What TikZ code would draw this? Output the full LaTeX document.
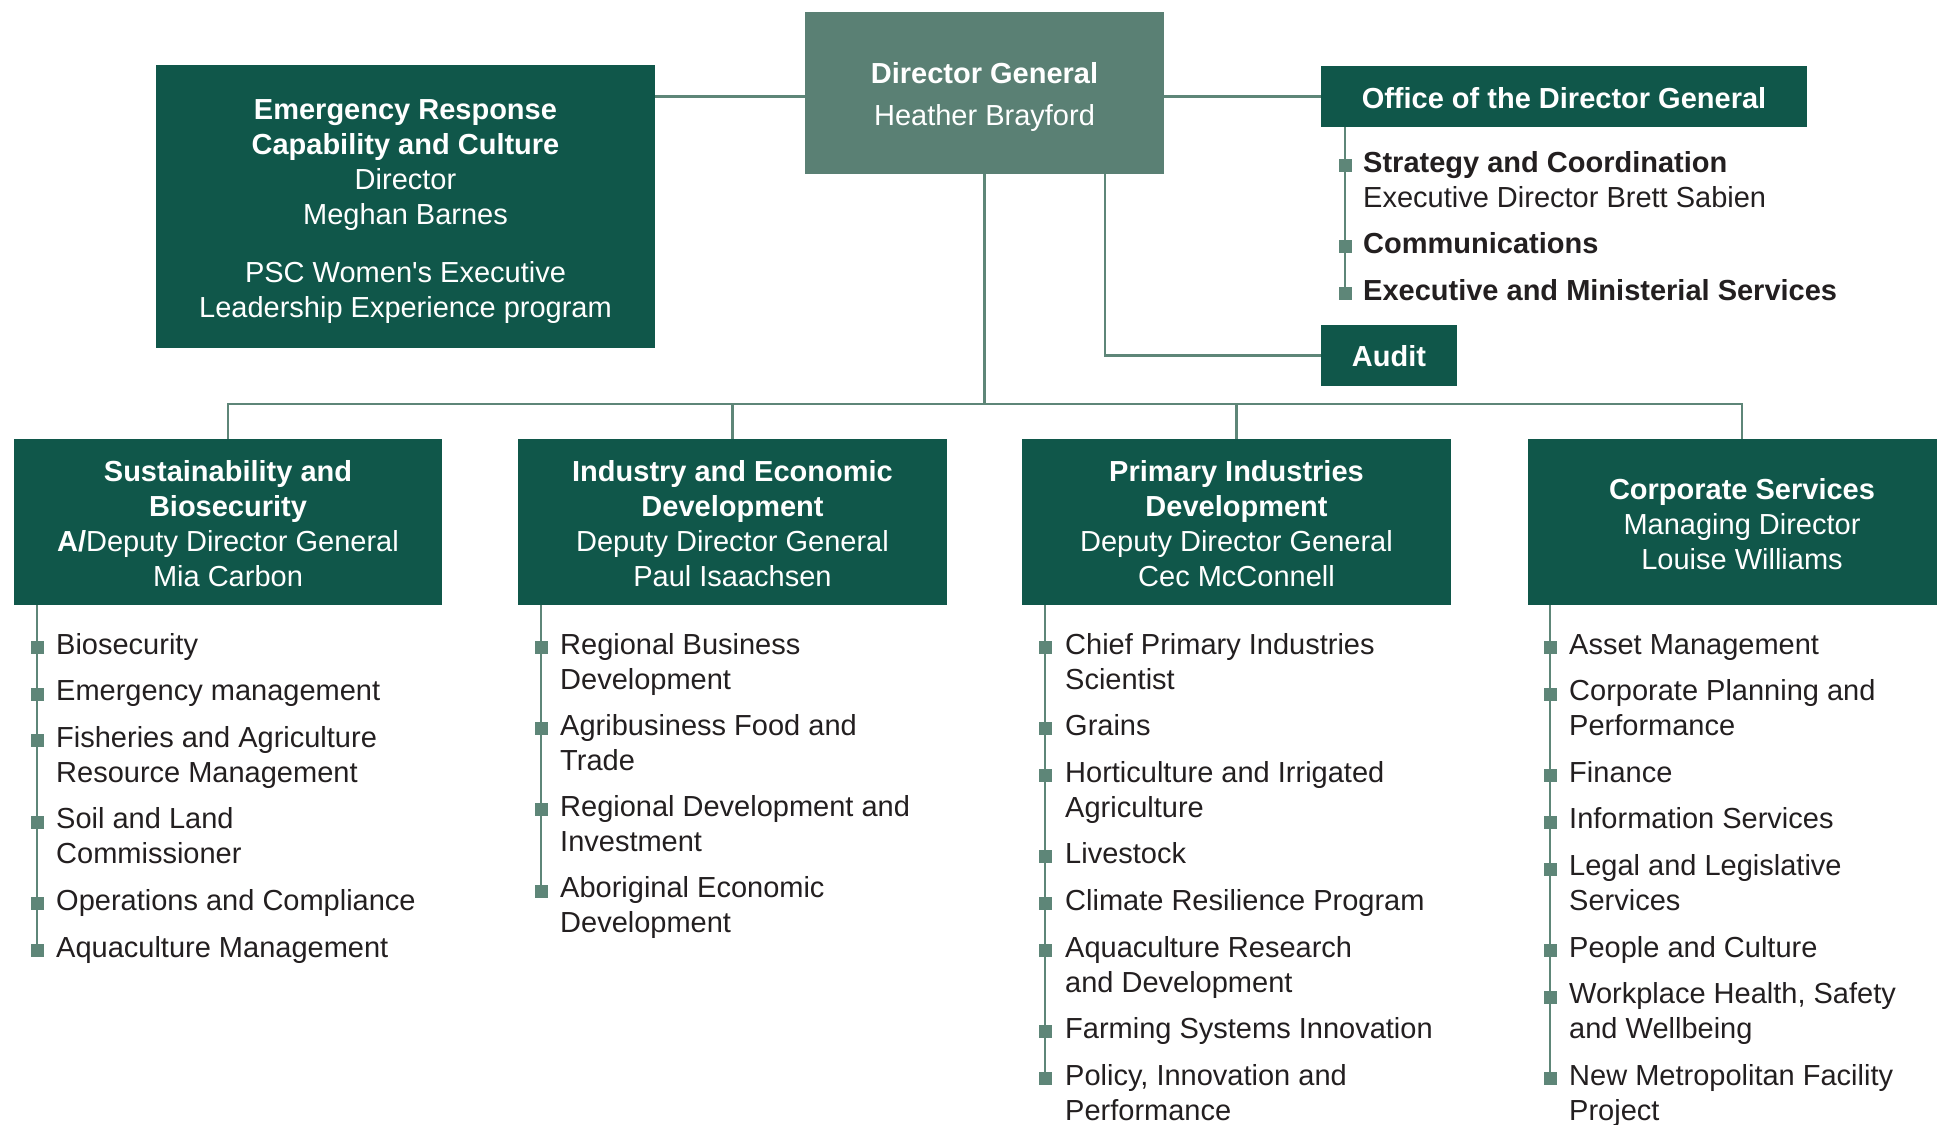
\documentclass[tikz,border=0pt]{standalone}
\usepackage{fontspec}
\setmainfont{Liberation Sans}[Ligatures=TeXOff]
\definecolor{dkgreen}{HTML}{10574A}
\definecolor{mdgreen}{HTML}{5A8074}
\definecolor{lnclr}{HTML}{5E8678}
\definecolor{txtdark}{HTML}{231F20}
\newcommand{\mlines}[1]{\begin{tabular}[t]{@{}l@{}}#1\end{tabular}}
\begin{document}
\begin{tikzpicture}[x=1pt,y=-1pt,
  every node/.style={font=\fontsize{29}{35}\selectfont},
  dbox/.style={fill=dkgreen, inner sep=0pt},
  dgbox/.style={fill=mdgreen, inner sep=0pt},
  boxtxt/.style={text=white, align=center, inner sep=0pt},
  conn/.style={draw=lnclr, line width=2.6pt},
  item/.style={anchor=base west, inner sep=0pt, text=txtdark},
  bul/.style={fill=lnclr, minimum size=13pt, inner sep=0pt, anchor=south}]
\fill[white] (0,0) rectangle (1937,1124);
\useasboundingbox (0,0) rectangle (1937,1124);
\clip (0,0) rectangle (1937,1124);

% top boxes
\node[dgbox, minimum width=359pt, minimum height=162pt,
  label={[boxtxt, yshift=-4pt]center:{\textbf{Director General}\\[7pt]Heather Brayford}}] (dg) at (984.5,93) {};
\node[dbox, minimum width=499pt, minimum height=283pt,
  label={[boxtxt, yshift=-5pt]center:{\textbf{Emergency Response}\\\textbf{Capability and Culture}\\Director\\Meghan Barnes\\[23pt]PSC Women's Executive\\Leadership Experience program}}] (ercc) at (405.5,206.5) {};
\node[dbox, minimum width=486pt, minimum height=61pt,
  label={[boxtxt, yshift=-1.5pt]center:{\textbf{Office of the Director General}}}] (office) at (1564,96.5) {};
\node[dbox, minimum width=136pt, minimum height=61pt,
  label={[boxtxt, yshift=-1pt]center:{\textbf{Audit}}}] (audit) at (1389,355.5) {};

% bottom boxes
\node[dbox, minimum width=428pt, minimum height=166pt,
  label={[boxtxt, yshift=-2pt]center:{\textbf{Sustainability and}\\\textbf{Biosecurity}\\\textbf{A/}Deputy Director General\\Mia Carbon}}] (b1) at (228,522) {};
\node[dbox, minimum width=429pt, minimum height=166pt,
  label={[boxtxt, yshift=-2pt]center:{\textbf{Industry and Economic}\\\textbf{Development}\\Deputy Director General\\Paul Isaachsen}}] (b2) at (732.5,522) {};
\node[dbox, minimum width=429pt, minimum height=166pt,
  label={[boxtxt, yshift=-2pt]center:{\textbf{Primary Industries}\\\textbf{Development}\\Deputy Director General\\Cec McConnell}}] (b3) at (1236.5,522) {};
\node[dbox, minimum width=428pt, minimum height=166pt,
  label={[boxtxt, yshift=-2pt]center:{\textbf{Corporate Services}\\Managing Director\\Louise Williams}}] (b4) at (1742,522) {};

% connectors
\draw[conn] (office.west) -- (dg.east |- office.west);
\draw[conn] (dg.west |- office.west) -- (ercc.east |- office.west);
\coordinate (aud) at (1105,0);
\draw[conn] (dg.south -| aud) |- (audit.west);
\coordinate (bus) at (0,404);
\draw[conn] (dg.south) -- (dg.south |- bus);
\draw[conn] (b1.north) -- (b1.north |- bus) -- (b4.north |- bus) -- (b4.north);
\draw[conn] (b2.north) -- (b2.north |- bus);
\draw[conn] (b3.north) -- (b3.north |- bus);

% office list
\foreach \y/\t [count=\i] in {172/{\mlines{\textbf{Strategy and Coordination}\\Executive Director Brett Sabien}},
  253.3/{\textbf{Communications}}, 300.1/{\textbf{Executive and Ministerial Services}}}{
  \node[bul] (ob\i) at (1345,\y) {};
  \node[item] (ot\i) at (1363,\y) {\t};
}
\draw[conn] (office.south -| ob1) -- (ob3.south);

% column 1
\foreach \y/\t [count=\i] in {654/{Biosecurity}, 700.8/{Emergency management},
  747.6/{\mlines{Fisheries and Agriculture\\Resource Management}},
  828.9/{\mlines{Soil and Land\\Commissioner}},
  910.2/{Operations and Compliance}, 957/{Aquaculture Management}}{
  \node[bul] (ab\i) at (37,\y) {};
  \node[item] (at\i) at (56,\y) {\t};
}
\draw[conn] (b1.south -| ab1) -- (ab6.south);

% column 2
\foreach \y/\t [count=\i] in {654/{\mlines{Regional Business\\Development}},
  735.3/{\mlines{Agribusiness Food and\\Trade}},
  816.6/{\mlines{Regional Development and\\Investment}},
  897.9/{\mlines{Aboriginal Economic\\Development}}}{
  \node[bul] (bb\i) at (541,\y) {};
  \node[item] (bt\i) at (560,\y) {\t};
}
\draw[conn] (b2.south -| bb1) -- (bb4.south);

% column 3
\foreach \y/\t [count=\i] in {654/{\mlines{Chief Primary Industries\\Scientist}},
  735.3/{Grains},
  782.1/{\mlines{Horticulture and Irrigated\\Agriculture}},
  863.4/{Livestock}, 910.2/{Climate Resilience Program},
  957/{\mlines{Aquaculture Research\\and Development}},
  1038.3/{Farming Systems Innovation},
  1085.1/{\mlines{Policy, Innovation and\\Performance}}}{
  \node[bul] (cb\i) at (1045,\y) {};
  \node[item] (ct\i) at (1065,\y) {\t};
}
\draw[conn] (b3.south -| cb1) -- (cb8.south);

% column 4
\foreach \y/\t [count=\i] in {654/{Asset Management},
  700.8/{\mlines{Corporate Planning and\\Performance}},
  782.1/{Finance}, 828.9/{Information Services},
  875.7/{\mlines{Legal and Legislative\\Services}},
  957/{People and Culture},
  1003.8/{\mlines{Workplace Health, Safety\\and Wellbeing}},
  1085.1/{\mlines{New Metropolitan Facility\\Project}}}{
  \node[bul] (db\i) at (1550,\y) {};
  \node[item] (dt\i) at (1569,\y) {\t};
}
\draw[conn] (b4.south -| db1) -- (db8.south);
\end{tikzpicture}
\end{document}
